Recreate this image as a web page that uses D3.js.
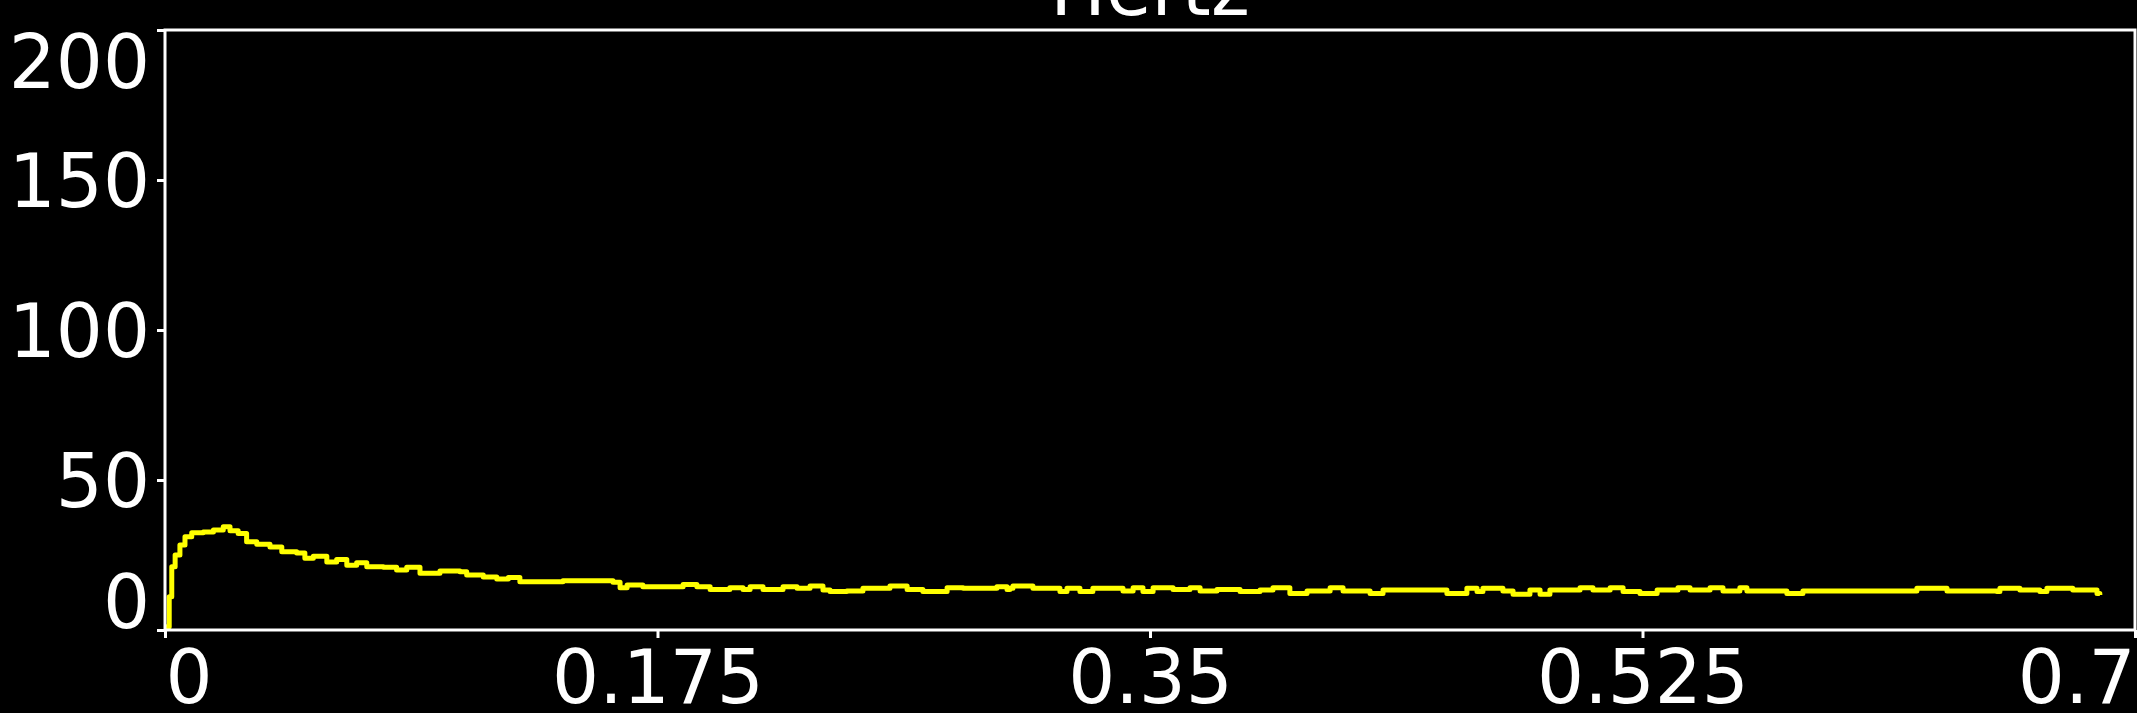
<!DOCTYPE html>
<html>
<head>
<meta charset="utf-8">
<script src="https://cdn.jsdelivr.net/npm/d3@7/dist/d3.min.js"></script>
<style>
  html, body { margin: 0; padding: 0; background: #000; overflow: hidden; }
  svg { display: block; }
</style>
</head>
<body>
<svg id="chart" width="2137" height="713"></svg>
<script>
// ---------- data ----------
const title = "Hertz";
const xTicks = [0, 0.175, 0.35, 0.525, 0.7];
const xTickLabels = ["0", "0.175", "0.35", "0.525", "0.7"];
const yTicks = [0, 50, 100, 150, 200];
const yTickLabels = ["0", "50", "100", "150", "200"];
const xDomain = [0, 0.7];
const yDomain = [0, 200];

const seriesX = [
  0, 0.0006, 0.0015, 0.0024, 0.0036, 0.0053, 0.0071, 0.0095, 0.0136, 0.0172, 0.0207,
  0.0231, 0.026, 0.029, 0.0326, 0.0373, 0.0415, 0.0468, 0.0497, 0.0527, 0.0575,
  0.061, 0.0646, 0.0681, 0.0717, 0.0776, 0.0823, 0.0859, 0.0906, 0.0977, 0.1048,
  0.1072, 0.1131, 0.1179, 0.122, 0.1261, 0.1321, 0.1343, 0.1414, 0.1475, 0.1592,
  0.1617, 0.1642, 0.1698, 0.1841, 0.189, 0.1937, 0.2007, 0.2054, 0.2079, 0.2125,
  0.2196, 0.2246, 0.2292, 0.2338, 0.2363, 0.2423, 0.248, 0.2576, 0.2637, 0.2693,
  0.2779, 0.2836, 0.2956, 0.2992, 0.3002, 0.3013, 0.3084, 0.318, 0.3205, 0.3251,
  0.3297, 0.3404, 0.344, 0.3475, 0.3511, 0.3582, 0.3642, 0.3678, 0.3738, 0.382,
  0.3891, 0.3937, 0.3997, 0.4058, 0.414, 0.4186, 0.4282, 0.4328, 0.4449, 0.4555,
  0.4626, 0.4662, 0.4683, 0.4754, 0.479, 0.485, 0.4886, 0.4921, 0.5028, 0.5074,
  0.5135, 0.5181, 0.5241, 0.5302, 0.5376, 0.5419, 0.549, 0.5536, 0.5596, 0.5621,
  0.5763, 0.582, 0.6225, 0.6296, 0.6332, 0.6378, 0.6509, 0.652, 0.6591, 0.6662,
  0.6687, 0.6779, 0.6829, 0.6865, 0.6875
];
const seriesY = [
  0, 1.1, 11.1, 21.1, 25.0, 28.3, 31.1, 32.4, 32.7, 33.3, 34.4,
  33.1, 32.2, 29.4, 28.6, 27.7, 26.1, 25.7, 23.9, 24.6, 22.7,
  23.5, 21.6, 22.4, 21.1, 20.9, 20.0, 20.9, 18.9, 19.7, 19.4,
  18.3, 17.7, 17.0, 17.5, 16.1, 16.1, 16.1, 16.4, 16.4, 15.9,
  14.1, 15.0, 14.4, 15.2, 14.4, 13.5, 14.1, 13.5, 14.4, 13.5,
  14.4, 13.9, 14.7, 13.3, 12.8, 13.0, 13.9, 14.7, 13.5, 12.8,
  14.1, 13.9, 14.4, 13.5, 13.9, 14.7, 13.9, 12.8, 13.9, 12.8,
  13.9, 13.0, 14.1, 12.8, 14.1, 13.5, 14.1, 13.0, 13.5, 12.8,
  13.3, 14.1, 12.2, 13.0, 14.1, 13.0, 12.2, 13.3, 13.3, 12.2,
  13.9, 12.8, 13.9, 13.0, 11.9, 13.3, 11.9, 13.3, 14.1, 13.3,
  14.1, 12.8, 12.2, 13.3, 14.1, 13.3, 14.1, 13.0, 14.1, 13.0,
  12.2, 13.0, 13.9, 13.9, 13.0, 13.0, 12.8, 13.9, 13.3, 12.8,
  13.9, 13.3, 13.3, 12.2, 11.7
];

// ---------- layout ----------
const W = 2137, H = 713;
const plot = { left: 165, right: 2135, top: 30, bottom: 630 };
const fontFamily = "'DejaVu Sans', sans-serif";
const fontSize = 74;
const capH = 0.729 * fontSize;

const svg = d3.select("#chart");
svg.append("rect").attr("width", W).attr("height", H).attr("fill", "#000");

const x = d3.scaleLinear().domain(xDomain).range([plot.left, plot.right]);
const y = d3.scaleLinear().domain(yDomain).range([plot.bottom, plot.top]);

// clip
svg.append("defs").append("clipPath").attr("id", "clip")
  .append("rect")
  .attr("x", plot.left).attr("y", plot.top)
  .attr("width", plot.right - plot.left).attr("height", plot.bottom - plot.top);

// line
const data = seriesX.map((d, i) => [d, seriesY[i]]);
const line = d3.line().x(d => x(d[0])).y(d => y(d[1])).curve(d3.curveStepAfter);
svg.append("path")
  .datum(data)
  .attr("clip-path", "url(#clip)")
  .attr("d", line)
  .attr("fill", "none")
  .attr("stroke", "#ffff00")
  .attr("stroke-width", 5)
  .attr("stroke-linejoin", "round");

// frame
svg.append("rect")
  .attr("x", plot.left).attr("y", plot.top)
  .attr("width", plot.right - plot.left).attr("height", plot.bottom - plot.top)
  .attr("fill", "none").attr("stroke", "#fff").attr("stroke-width", 3);

// y axis
const yAxis = d3.axisLeft(y).tickValues(yTicks).tickSize(8).tickFormat((d, i) => yTickLabels[i]);
const gy = svg.append("g").attr("transform", `translate(${plot.left},0)`).call(yAxis);
gy.select(".domain").remove();
gy.selectAll(".tick line").attr("stroke", "#fff").attr("stroke-width", 3);
gy.selectAll(".tick text")
  .attr("fill", "#fff")
  .style("font-family", fontFamily)
  .style("font-size", fontSize + "px")
  .attr("x", -15)
  .attr("dy", null)
  .attr("text-anchor", "end")
  .each(function(d) {
    const ty = y(d);
    let base = ty + capH / 2;
    base = Math.max(base, plot.top + capH + 4);
    base = Math.min(base, plot.bottom - 3);
    d3.select(this).attr("y", base - ty);
  });

// x axis
const xAxis = d3.axisBottom(x).tickValues(xTicks).tickSize(8).tickFormat((d, i) => xTickLabels[i]);
const gx = svg.append("g").attr("transform", `translate(0,${plot.bottom})`).call(xAxis);
gx.select(".domain").remove();
gx.selectAll(".tick line").attr("stroke", "#fff").attr("stroke-width", 3);
gx.selectAll(".tick text")
  .attr("fill", "#fff")
  .style("font-family", fontFamily)
  .style("font-size", fontSize + "px")
  .attr("dy", null)
  .attr("y", 703 - plot.bottom)
  .attr("text-anchor", "middle")
  .each(function(d) {
    const tx = x(d);
    const w = this.getComputedTextLength();
    let c = tx;
    c = Math.max(c, plot.left + w / 2);
    c = Math.min(c, plot.right - w / 2);
    d3.select(this).attr("x", c - tx);
  });

// title
svg.append("text")
  .attr("x", (plot.left + plot.right) / 2)
  .attr("y", 15)
  .attr("text-anchor", "middle")
  .attr("fill", "#fff")
  .style("font-family", fontFamily)
  .style("font-size", fontSize + "px")
  .text(title);
</script>
</body>
</html>
